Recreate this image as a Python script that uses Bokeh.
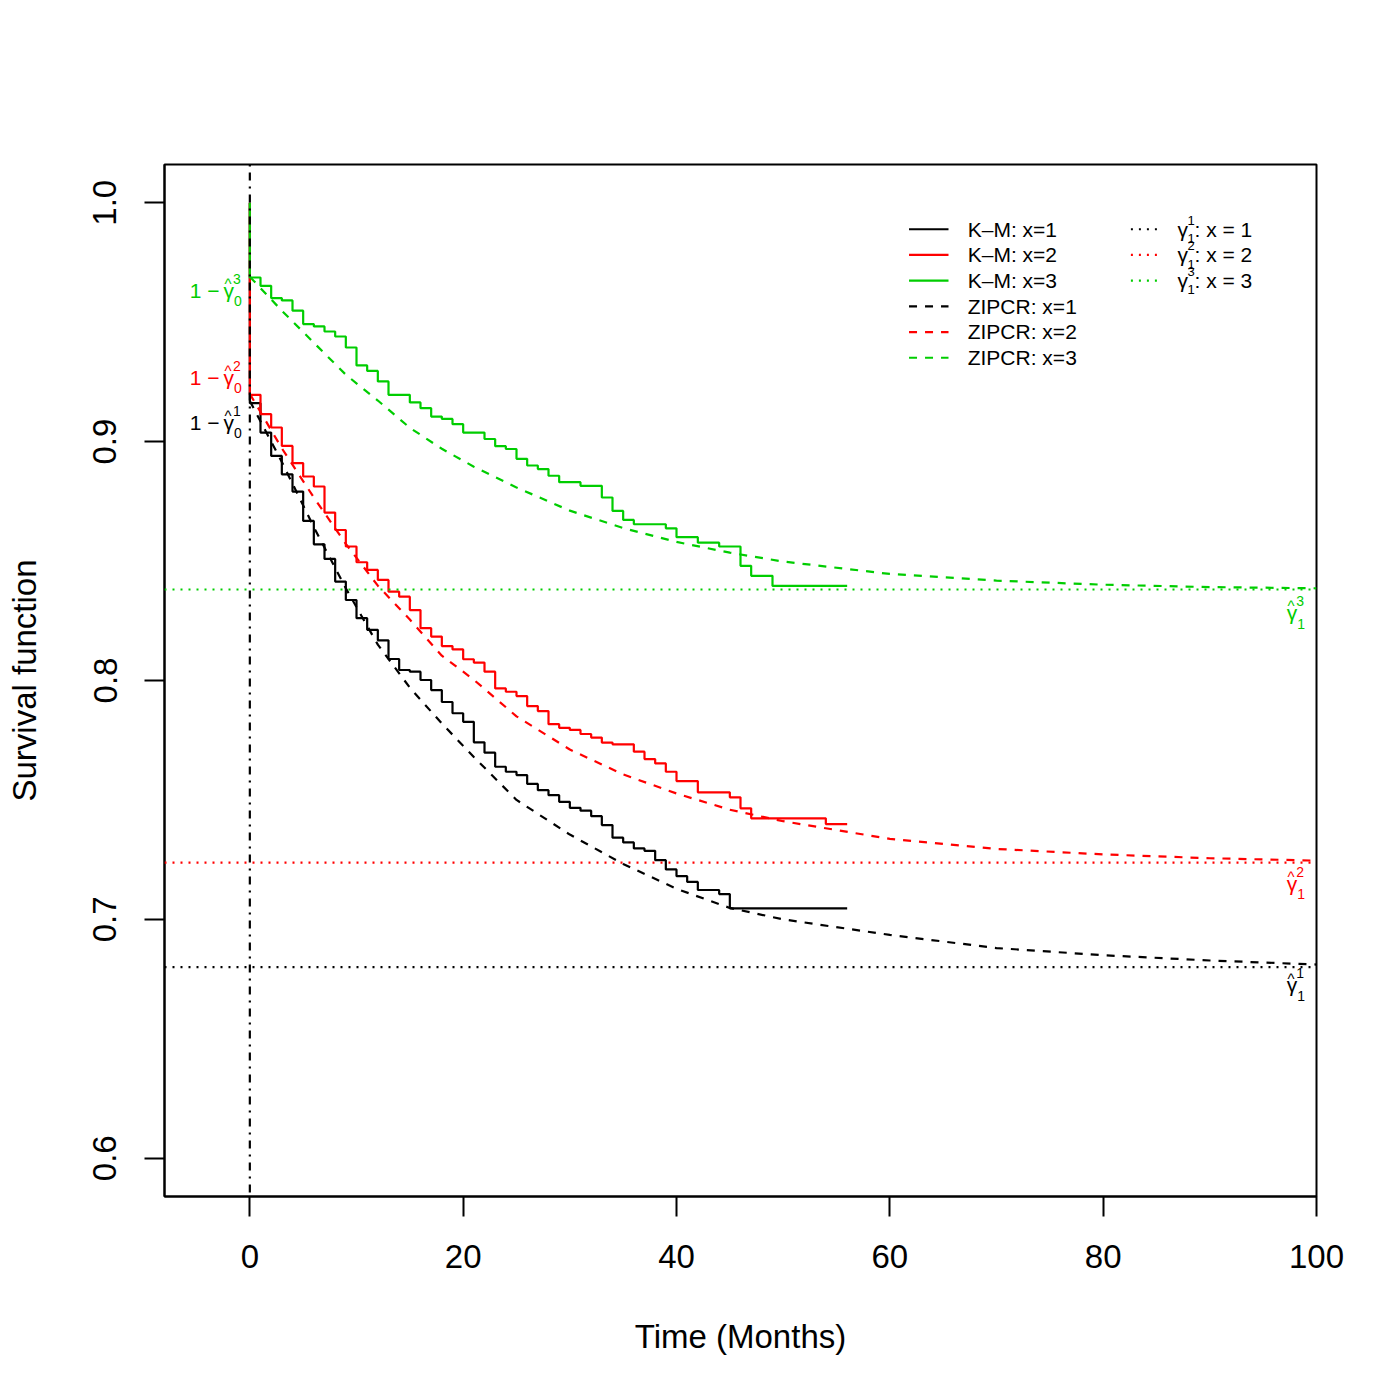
from bokeh.plotting import figure
from bokeh.models import Range1d, FixedTicker, Span
from bokeh.core.properties import value
from bokeh.embed import file_html
from bokeh.resources import INLINE

# ---------------- data ----------------
colors = ["#000000", "#FF0000", "#00CD00"]
group_ids = ["1", "2", "3"]

# Kaplan-Meier step curves (time of each step, survival after the step)
km1_time = [0, 0, 1, 2, 3, 4, 5, 6, 7, 8, 9, 10, 11, 12, 13, 14, 15, 16, 17, 18, 19, 20,
            21, 22, 23, 24, 25, 26, 27, 28, 29, 30, 31, 32, 33, 34, 35, 36, 37, 38, 39, 40,
            41, 42, 44, 45, 56]
km1_surv = [1.0, 0.9161, 0.9038, 0.8940, 0.8863, 0.8791, 0.8668, 0.8570, 0.8509, 0.8414,
            0.8337, 0.8261, 0.8212, 0.8168, 0.8090, 0.8044, 0.8037, 0.8002, 0.7960, 0.7910,
            0.7863, 0.7827, 0.7741, 0.7698, 0.7639, 0.7618, 0.7604, 0.7567, 0.7541, 0.7520,
            0.7492, 0.7467, 0.7455, 0.7432, 0.7395, 0.7342, 0.7322, 0.7297, 0.7287, 0.7248,
            0.7209, 0.7181, 0.7157, 0.7123, 0.7106, 0.7046, 0.7046]

km2_time = [0, 0, 1, 2, 3, 4, 5, 6, 7, 8, 9, 10, 11, 12, 13, 14, 15, 16, 17, 18, 19, 20,
            21, 22, 23, 24, 25, 26, 27, 28, 29, 30, 31, 32, 33, 34, 36, 37, 38, 39, 40,
            42, 45, 46, 47, 54, 56]
km2_surv = [1.0, 0.9196, 0.9115, 0.9059, 0.8982, 0.8910, 0.8854, 0.8812, 0.8703, 0.8630,
            0.8561, 0.8495, 0.8463, 0.8421, 0.8372, 0.8351, 0.8295, 0.8219, 0.8184, 0.8144,
            0.8130, 0.8089, 0.8075, 0.8037, 0.7967, 0.7953, 0.7935, 0.7893, 0.7872, 0.7817,
            0.7802, 0.7793, 0.7776, 0.7761, 0.7740, 0.7733, 0.7702, 0.7671, 0.7653, 0.7618,
            0.7579, 0.7532, 0.7511, 0.7465, 0.7423, 0.7399, 0.7399]

km3_time = [0, 0, 1, 2, 3, 4, 5, 6, 7, 8, 9, 10, 11, 12, 13, 15, 16, 17, 18, 19, 20,
            22, 23, 24, 25, 26, 27, 28, 29, 31, 33, 34, 35, 36, 39, 40, 42, 44, 46, 47,
            49, 56]
km3_surv = [1.0, 0.9687, 0.9652, 0.9601, 0.9591, 0.9548, 0.9492, 0.9482, 0.9461, 0.9440,
            0.9394, 0.9319, 0.9296, 0.9252, 0.9196, 0.9164, 0.9140, 0.9105, 0.9095, 0.9073,
            0.9038, 0.9011, 0.8981, 0.8969, 0.8928, 0.8900, 0.8885, 0.8857, 0.8830, 0.8815,
            0.8766, 0.8710, 0.8672, 0.8654, 0.8637, 0.8600, 0.8577, 0.8561, 0.8480, 0.8438,
            0.8396, 0.8396]

# ZIPCR fitted curves
zipcr_time = [0, 3, 6, 9, 12, 15, 18, 21, 25, 30, 35, 40, 45, 50, 60, 70, 80, 90, 100]
zipcr_1 = [0.917, 0.8915, 0.8642, 0.8386, 0.8150, 0.7970, 0.7820, 0.7680, 0.7500, 0.7355,
           0.7232, 0.7128, 0.7048, 0.7000, 0.6935, 0.6880, 0.6850, 0.6828, 0.6811]
zipcr_2 = [0.920, 0.8972, 0.8766, 0.8572, 0.8397, 0.8255, 0.8104, 0.8003, 0.7850, 0.7711,
           0.7607, 0.7527, 0.7459, 0.7411, 0.7337, 0.7295, 0.7272, 0.7256, 0.7246]
zipcr_3 = [0.969, 0.9548, 0.9414, 0.9280, 0.9172, 0.9058, 0.8970, 0.8895, 0.8808, 0.8711,
           0.8638, 0.8580, 0.8535, 0.8498, 0.8446, 0.8418, 0.8401, 0.8391, 0.8386]

# cure-fraction estimates (horizontal dotted lines)
gamma1_hat = [0.6800, 0.7238, 0.8381]

x_ticks = [0, 20, 40, 60, 80, 100]
y_ticks = [0.6, 0.7, 0.8, 0.9, 1.0]
y_tick_labels = ["0.6", "0.7", "0.8", "0.9", "1.0"]

legend_col1 = ["K\u2013M: x=1", "K\u2013M: x=2", "K\u2013M: x=3",
               "ZIPCR: x=1", "ZIPCR: x=2", "ZIPCR: x=3"]
legend_col2_rest = [": x = 1", ": x = 2", ": x = 3"]

x_title = "Time (Months)"
y_title = "Survival function"

# ---------------- layout / style constants ----------------
FONT = "Liberation Sans"
X_RANGE = (-8, 100)
Y_RANGE = (0.584, 1.016)
LEFT_LAB_X = -2.47
LEFT_LAB_Y = [0.9049, 0.9238, 0.9601]
RIGHT_LAB_X = 97.2
RIGHT_LAB_Y = [0.6694, 0.7120, 0.8253]
LEG1_X = (61.8, 65.5)
LEG1_TX = 67.3
LEG2_X = (82.6, 85.1)
LEG2_GX = 86.97
LEG_Y0 = 0.9889
LEG_DY = 0.01076
BASE_SHIFT = 0.36   # em fraction: renderer places glyph text lower than the baseline anchor
LW = 2.2

p = figure(width=1384, height=1384,
           x_range=Range1d(*X_RANGE), y_range=Range1d(*Y_RANGE),
           output_backend="svg", toolbar_location=None,
           min_border_left=164, min_border_right=68,
           min_border_top=164, min_border_bottom=188)

p.background_fill_color = "white"
p.border_fill_color = "white"
p.outline_line_color = "black"
p.outline_line_width = 2
p.grid.visible = False

for ax in (p.xaxis[0], p.yaxis[0]):
    ax.axis_line_width = 2
    ax.axis_line_color = "black"
    ax.major_tick_line_width = 2
    ax.major_tick_line_color = "black"
    ax.major_tick_out = 20
    ax.major_tick_in = 0
    ax.minor_tick_line_color = None
    ax.major_label_text_font = FONT
    ax.major_label_text_font_size = "33px"
    ax.major_label_text_color = "black"
    ax.axis_label_text_font = FONT
    ax.axis_label_text_font_size = "33px"
    ax.axis_label_text_font_style = "normal"
    ax.axis_label_text_color = "black"
    ax.major_label_standoff = 28

p.xaxis.ticker = FixedTicker(ticks=x_ticks)
p.yaxis.ticker = FixedTicker(ticks=y_ticks)
p.yaxis.major_label_overrides = {t: l for t, l in zip(y_ticks, y_tick_labels)}
p.yaxis.major_label_orientation = "vertical"
p.xaxis.axis_label = x_title
p.yaxis.axis_label = y_title
p.xaxis.axis_label_standoff = 47
p.yaxis.axis_label_standoff = 48

# horizontal dotted lines: gamma_1 estimates
for g, c in zip(gamma1_hat, colors):
    p.add_layout(Span(location=g, dimension="width", line_color=c,
                      line_width=LW, line_dash="2 6"))

# Kaplan-Meier curves
for t, s, c in zip([km1_time, km2_time, km3_time], [km1_surv, km2_surv, km3_surv], colors):
    p.step(t, s, mode="after", line_color=c, line_width=LW)

# ZIPCR curves
for s, c in zip([zipcr_1, zipcr_2, zipcr_3], colors):
    p.line(zipcr_time, s, line_color=c, line_width=LW, line_dash="8 8")

# vertical dot-dash line at time 0
p.add_layout(Span(location=0, dimension="height", line_color="black",
                  line_width=LW, line_dash="2 6 8 6"))


def put_text(xs, ys, texts, cols, size, align, dx, dy):
    p.text(x=xs, y=ys, text=texts, text_color=cols,
           text_font=value(FONT), text_font_size=value(f"{size}px"),
           text_align=align, text_baseline="alphabetic",
           x_offset=dx, y_offset=dy - BASE_SHIFT * size)


# left labels: 1 - hat(gamma)_0^k
lx = [LEFT_LAB_X] * 3
put_text(lx, LEFT_LAB_Y, ["1 \u2212"] * 3, colors, 21, "right", -4, 0)
put_text(lx, LEFT_LAB_Y, ["\u03b3"] * 3, colors, 21, "left", 0, 0)
put_text(lx, LEFT_LAB_Y, ["^"] * 3, colors, 15, "center", 4.5, -9)
put_text(lx, LEFT_LAB_Y, group_ids, colors, 14, "left", 9.5, -14)
put_text(lx, LEFT_LAB_Y, ["0"] * 3, colors, 14, "left", 10.5, 8.5)

# right labels: hat(gamma)_1^k
rx = [RIGHT_LAB_X] * 3
put_text(rx, RIGHT_LAB_Y, ["\u03b3"] * 3, colors, 21, "left", 0, 0)
put_text(rx, RIGHT_LAB_Y, ["^"] * 3, colors, 15, "center", 4.5, -9)
put_text(rx, RIGHT_LAB_Y, group_ids, colors, 14, "left", 9.5, -14)
put_text(rx, RIGHT_LAB_Y, ["1"] * 3, colors, 14, "left", 10.5, 8.5)

# legend column 1
leg_cols1 = colors + colors
leg_dash1 = ["solid"] * 3 + ["8 8"] * 3
leg_rows1 = [LEG_Y0 - i * LEG_DY for i in range(6)]
for yy, c, d in zip(leg_rows1, leg_cols1, leg_dash1):
    p.line([LEG1_X[0], LEG1_X[1]], [yy, yy], line_color=c, line_width=LW, line_dash=d)
put_text([LEG1_TX] * 6, leg_rows1, legend_col1, ["black"] * 6, 21, "left", 0, 7.5)

# legend column 2
leg_rows2 = leg_rows1[:3]
for yy, c in zip(leg_rows2, colors):
    p.line([LEG2_X[0], LEG2_X[1]], [yy, yy], line_color=c, line_width=LW, line_dash="2 6")
gx = [LEG2_GX] * 3
put_text(gx, leg_rows2, ["\u03b3"] * 3, ["black"] * 3, 21, "left", 0, 7.5)
put_text(gx, leg_rows2, group_ids, ["black"] * 3, 13, "left", 10, -4.5)
put_text(gx, leg_rows2, ["1"] * 3, ["black"] * 3, 13, "left", 10, 14)
put_text(gx, leg_rows2, legend_col2_rest, ["black"] * 3, 21, "left", 17, 7.5)

with open("out.html", "w", encoding="utf-8") as f:
    f.write(file_html(p, INLINE))
